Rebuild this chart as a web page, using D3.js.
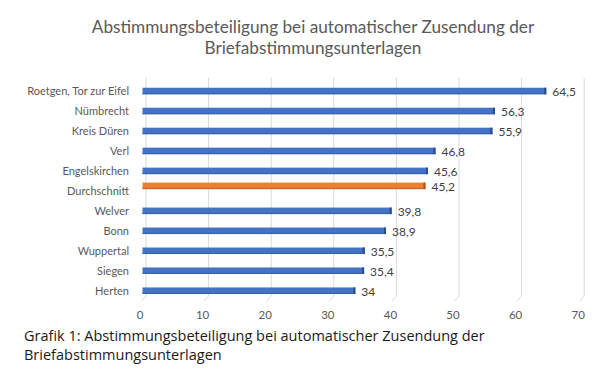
<!DOCTYPE html>
<html>
<head>
<meta charset="utf-8">
<script src="https://cdn.jsdelivr.net/npm/d3@7"></script>
<style>
  body { margin: 0; background: #fff; }
  svg text { font-family: Lato, "Open Sans", sans-serif; }
  .caption { font-family: "Open Sans", sans-serif; font-size: 14.5px; fill: #1a1a1a; }
</style>
</head>
<body>
<div id="chart"></div>
<script>
// data, top to bottom as shown
var categories = ['Roetgen, Tor zur Eifel', 'Nümbrecht', 'Kreis Düren', 'Verl', 'Engelskirchen',
  'Durchschnitt', 'Welver', 'Bonn', 'Wuppertal', 'Siegen', 'Herten'];
var values = [64.5, 56.3, 55.9, 46.8, 45.6, 45.2, 39.8, 38.9, 35.5, 35.4, 34];
var averageLabel = 'Durchschnitt';
var xTicks = [0, 10, 20, 30, 40, 50, 60, 70];
var titleLines = ['Abstimmungsbeteiligung bei automatischer Zusendung der', 'Briefabstimmungsunterlagen'];
var captionLines = ['Grafik 1: Abstimmungsbeteiligung bei automatischer Zusendung der', 'Briefabstimmungsunterlagen'];

var width = 607, height = 376;
var plot = {left: 142.5, right: 580.7, top: 78, floor: 296, first: 91, last: 290.7};
var depth = {back: 3.5, front: -1, label: -2.5, drop: 5};
var barH = 6.5;

var svg = d3.select('#chart').append('svg')
  .attr('width', width)
  .attr('height', height);

var x = d3.scaleLinear().domain([0, 70]).range([plot.left, plot.right]);
var y = d3.scalePoint().domain(categories).range([plot.first, plot.last]);

// title
svg.append('g').selectAll('text')
  .data(titleLines)
  .enter().append('text')
  .attr('x', 313)
  .attr('y', function(d, i) { return 33 + i * 21; })
  .attr('text-anchor', 'middle')
  .style('font-size', '17.2px')
  .style('fill', '#595959')
  .text(function(d) { return d; });

// gridlines on the back wall, with the short floor edge
var grid = svg.append('g');
xTicks.forEach(function(t) {
  var gx = x(t) + depth.back;
  grid.append('path')
    .attr('d', 'M' + gx + ',' + plot.top + 'V' + plot.floor +
      'L' + (x(t) + depth.front) + ',' + (plot.floor + depth.drop))
    .attr('fill', 'none')
    .attr('stroke', '#d9d9d9')
    .attr('stroke-width', 1);
});

// x tick labels
svg.append('g').selectAll('text')
  .data(xTicks)
  .enter().append('text')
  .attr('x', function(d) { return x(d) + depth.label; })
  .attr('y', 319)
  .attr('text-anchor', 'middle')
  .style('font-size', '11.5px')
  .style('fill', '#595959')
  .text(function(d) { return d; });

// category labels
svg.append('g').selectAll('text')
  .data(categories)
  .enter().append('text')
  .attr('x', 129)
  .attr('y', function(d) { return y(d); })
  .attr('dy', '0.35em')
  .attr('text-anchor', 'end')
  .style('font-size', '11px')
  .style('fill', '#595959')
  .text(function(d) { return d; });

// bars
var rows = categories.map(function(c, i) {
  return {name: c, value: values[i], avg: c === averageLabel};
});
function barY(d) {
  // the average series sits a bit higher in its slot
  return y(d.name) + (d.avg ? -5 : 0);
}

var bars = svg.append('g').selectAll('g')
  .data(rows)
  .enter().append('g');

bars.append('rect')
  .attr('x', x(0))
  .attr('y', function(d) { return barY(d) - barH / 2; })
  .attr('width', function(d) { return x(d.value) - x(0); })
  .attr('height', barH)
  .attr('fill', function(d) { return d.avg ? '#ED7D31' : '#4472C4'; });

// darker lower edge and end cap for the 3d look
bars.append('rect')
  .attr('x', x(0))
  .attr('y', function(d) { return barY(d) + barH / 2 - 1.2; })
  .attr('width', function(d) { return x(d.value) - x(0); })
  .attr('height', 1.2)
  .attr('fill', function(d) { return d.avg ? '#C8652A' : '#3A62AA'; });

bars.append('rect')
  .attr('x', function(d) { return x(d.value) - 2; })
  .attr('y', function(d) { return barY(d) - barH / 2; })
  .attr('width', 2)
  .attr('height', barH)
  .attr('fill', function(d) { return d.avg ? '#A9561E' : '#2B4C86'; });

// value labels
bars.append('text')
  .attr('x', function(d) { return x(d.value) + 6; })
  .attr('y', function(d) { return barY(d) + 1; })
  .attr('dy', '0.35em')
  .style('font-size', '12px')
  .style('fill', '#404040')
  .text(function(d) { return String(d.value).replace('.', ','); });

// caption under the chart
svg.append('g').selectAll('text')
  .data(captionLines)
  .enter().append('text')
  .attr('class', 'caption')
  .attr('x', 24)
  .attr('y', function(d, i) { return 341 + i * 18.5; })
  .text(function(d) { return d; });
</script>
</body>
</html>
